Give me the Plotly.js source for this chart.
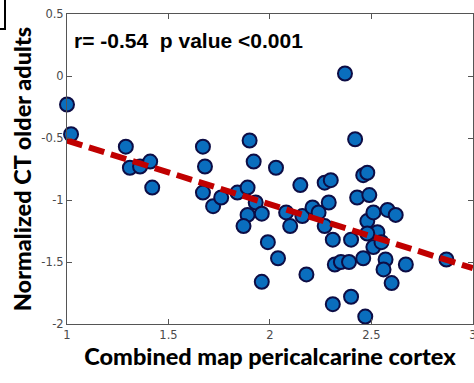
<!DOCTYPE html>
<html>
<head>
<meta charset="utf-8">
<script src="https://cdn.plot.ly/plotly-3.0.1.min.js"></script>
<style>
  html, body { margin: 0; padding: 0; background: #fff; }
  #chart { width: 474px; height: 383px; }
  #corner { position: absolute; left: 0; top: 0; width: 4px; height: 28px;
            border-right: 2px solid #000; border-bottom: 2px solid #000; z-index: 5; }
</style>
</head>
<body>
<div id="corner"></div>
<div id="chart"></div>
<script>
// Combined map value (pericalcarine cortex) per participant
const combinedMap = [
  1.00, 1.02, 1.29, 1.31, 1.36, 1.41, 1.42, 1.67, 1.68, 1.67,
  1.72, 1.76, 1.84, 1.89, 1.90, 1.92, 1.93, 1.89, 1.96, 1.87,
  1.99, 2.04, 1.96, 2.03, 2.15, 2.08, 2.10, 2.16, 2.18, 2.21,
  2.24, 2.27, 2.30, 2.29, 2.27, 2.31, 2.32, 2.35, 2.39, 2.40,
  2.31, 2.40, 2.47, 2.37, 2.42, 2.46, 2.48, 2.43, 2.49, 2.48,
  2.51, 2.58, 2.62, 2.53, 2.48, 2.51, 2.55, 2.46, 2.57, 2.56,
  2.60, 2.67, 2.87
];
// Normalized cortical thickness, older adults
const normalizedCT = [
  -0.23, -0.47, -0.57, -0.74, -0.73, -0.69, -0.90, -0.57, -0.73, -0.94,
  -1.05, -0.98, -0.94, -0.90, -0.52, -0.69, -1.02, -1.12, -1.11, -1.21,
  -1.34, -1.47, -1.66, -0.74, -0.88, -1.10, -1.21, -1.13, -1.60, -1.06,
  -1.10, -0.86, -0.84, -1.02, -1.21, -1.32, -1.52, -1.50, -1.50, -1.32,
  -1.84, -1.78, -1.94, 0.02, -0.51, -0.80, -0.78, -0.98, -0.96, -1.17,
  -1.10, -1.08, -1.12, -1.26, -1.27, -1.38, -1.34, -1.47, -1.48, -1.56,
  -1.67, -1.52, -1.48
];

// Least-squares fit line
const fitSlope = -0.515;
const fitIntercept = -0.005;
const fitX = [1, 3];
const fitY = fitX.map(x => fitIntercept + fitSlope * x);

// Correlation statistics
const rValue = -0.54;
const pLabel = "p value &lt;0.001";

const xTicks = [1, 1.5, 2, 2.5, 3];
const xTickText = ["1", "1.5", "2", "2.5", "3"];
const yTicks = [0.5, 0, -0.5, -1, -1.5, -2];
const yTickText = ["0.5", "0", "-0.5", "-1", "-1.5", "-2"];

const titleFont = { family: "Lato, 'Open Sans', sans-serif", size: 23.5, color: "#000", weight: 900 };
const tickFont = { family: "'DejaVu Sans', sans-serif", size: 11.5, color: "#4a4a4a" };

const traces = [
  {
    type: "scatter", mode: "markers",
    x: combinedMap, y: normalizedCT,
    marker: { size: 14, color: "#0a6ebe", line: { color: "#0d0d45", width: 2 } },
    cliponaxis: false,
    hoverinfo: "x+y"
  },
  {
    type: "scatter", mode: "lines",
    x: fitX, y: fitY,
    line: { color: "#c00000", width: 6, dash: "16px,7px" },
    hoverinfo: "skip"
  }
];

const axisCommon = {
  showgrid: false, zeroline: false,
  showline: true, linecolor: "#555", linewidth: 1, mirror: "ticks",
  ticks: "inside", ticklen: 5, tickwidth: 1, tickcolor: "#555",
  tickfont: tickFont, tickmode: "array", fixedrange: true,
  ticklabeloverflow: "allow"
};

const layout = {
  width: 474, height: 383,
  margin: { l: 67, r: 1, t: 14, b: 59 },
  paper_bgcolor: "#fff", plot_bgcolor: "#fff",
  showlegend: false,
  xaxis: Object.assign({}, axisCommon, {
    range: [1, 3.001], tickvals: xTicks, ticktext: xTickText,
    title: { text: "Combined map pericalcarine cortex", font: titleFont, standoff: 7 }
  }),
  yaxis: Object.assign({}, axisCommon, {
    range: [-2, 0.5], tickvals: yTicks, ticktext: yTickText,
    title: { text: "Normalized CT older adults", font: titleFont, standoff: 3 }
  }),
  annotations: [{
    xref: "paper", yref: "paper", x: 0.013, y: 0.916,
    xanchor: "left", yanchor: "middle", showarrow: false,
    text: "<b>r= " + rValue.toFixed(2) + "\u00a0\u00a0" + pLabel + "</b>",
    font: { family: "'Liberation Sans', Arial, sans-serif", size: 21, color: "#000" }
  }]
};

Plotly.newPlot("chart", traces, layout, { displayModeBar: false, staticPlot: true });
</script>
</body>
</html>
